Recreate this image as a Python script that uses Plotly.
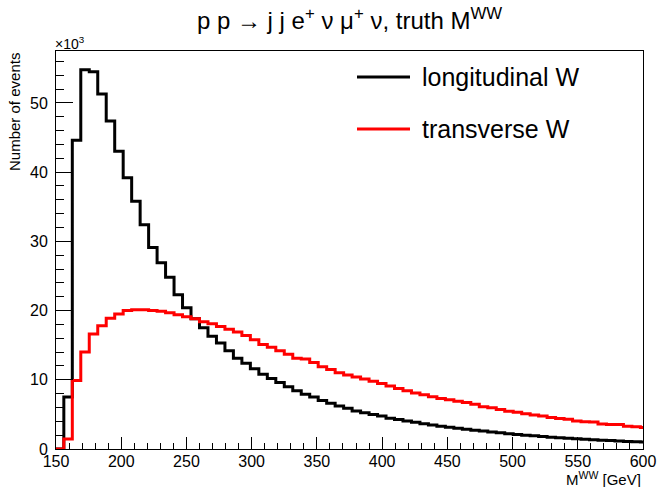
import plotly.graph_objects as go

# Histogram binning: 6.5 GeV bins, first visible bin starts at 149.5 GeV
bin_start = 149.5
bin_width = 6.5

# Events per bin, in units of 10^3
longitudinal_W = [
    0.0, 7.5, 44.6, 54.8, 54.5, 51.3, 47.4, 43.0, 39.2, 35.8,
    32.4, 29.1, 26.9, 24.8, 22.3, 20.4, 18.8, 17.5, 16.3, 15.3,
    14.2, 13.1, 12.4, 11.6, 10.8, 10.2, 9.6, 9.0, 8.4, 7.9,
    7.5, 7.0, 6.6, 6.2, 5.9, 5.5, 5.25, 5.0, 4.75, 4.45,
    4.25, 4.05, 3.85, 3.65, 3.45, 3.3, 3.15, 3.0, 2.85, 2.7,
    2.6, 2.45, 2.35, 2.2, 2.1, 2.0, 1.9, 1.8, 1.7, 1.62,
    1.55, 1.48, 1.42, 1.35, 1.28, 1.22, 1.15, 1.1, 1.05, 1.0,
]
transverse_W = [
    0.0, 1.45, 9.9, 14.0, 16.6, 17.8, 18.9, 19.5, 20.0, 20.1,
    20.1, 20.0, 19.9, 19.7, 19.4, 19.1, 18.8, 18.4, 18.1, 17.7,
    17.3, 16.9, 16.4, 15.8, 15.1, 14.7, 14.2, 13.7, 13.1, 13.0,
    12.5, 11.9, 11.5, 11.0, 10.7, 10.4, 10.1, 9.8, 9.45, 9.1,
    8.75, 8.4, 8.1, 7.85, 7.55, 7.3, 7.1, 6.9, 6.7, 6.45,
    6.1, 5.95, 5.7, 5.45, 5.3, 5.1, 4.9, 4.75, 4.55, 4.4,
    4.3, 4.05, 3.95, 3.9, 3.6, 3.55, 3.55, 3.3, 3.2, 3.1,
]

n_bins = len(longitudinal_W)
edges = [bin_start + i * bin_width for i in range(n_bins + 1)]

FONT = "Liberation Sans, Arial, Helvetica, sans-serif"

def step_xy(vals):
    xs = edges[:]
    ys = list(vals) + [vals[-1]]
    return xs, ys

fig = go.Figure()
xs, ys = step_xy(longitudinal_W)
fig.add_trace(go.Scatter(x=xs, y=ys, mode="lines", line_shape="hv",
                         line=dict(color="#000000", width=3),
                         name="longitudinal W", showlegend=False))
xs, ys = step_xy(transverse_W)
fig.add_trace(go.Scatter(x=xs, y=ys, mode="lines", line_shape="hv",
                         line=dict(color="#ff0000", width=3),
                         name="transverse W", showlegend=False))

L, R, T, B = 56, 14, 51, 38
W, H = 657, 487
pw, ph = W - L - R, H - T - B

def px(x):
    return (x - L) / pw

def py(y):
    return (H - B - y) / ph

fig.update_layout(
    width=W, height=H,
    margin=dict(l=L, r=R, t=T, b=B, autoexpand=False),
    paper_bgcolor="white", plot_bgcolor="white",
    font=dict(family=FONT, color="black"),
    title=dict(text="p p \u2192 j j e<sup>+</sup> \u03bd \u03bc<sup>+</sup> \u03bd, truth M<sup>WW</sup>",
               xref="paper", x=0.5, xanchor="center",
               yref="container", y=1 - 21 / H, yanchor="middle",
               font=dict(size=24, family=FONT)),
)

fig.update_xaxes(range=[150, 600], tick0=150, dtick=50, automargin=False,
                 ticks="inside", ticklen=12, tickwidth=1, tickcolor="black",
                 showline=True, linecolor="black", linewidth=1, mirror=True,
                 showgrid=False, zeroline=False, ticklabelstandoff=-2,
                 tickfont=dict(size=16, family=FONT),
                 minor=dict(ticks="inside", ticklen=6, dtick=10, tick0=150,
                            tickcolor="black", showgrid=False))
fig.update_yaxes(range=[0, 57.5], tick0=0, dtick=10, automargin=False,
                 ticks="inside", ticklen=17, tickwidth=1, tickcolor="black",
                 showline=True, linecolor="black", linewidth=1, mirror=True,
                 showgrid=False, zeroline=False,
                 ticklabelstandoff=4,
                 tickfont=dict(size=16, family=FONT),
                 minor=dict(ticks="inside", ticklen=8, dtick=2,
                            tickcolor="black", showgrid=False))

annotations = [
    dict(text="M<sup>WW</sup> [GeV]", xref="paper", yref="paper",
         x=1.0, y=py(478), xanchor="right", yanchor="middle",
         showarrow=False, font=dict(size=15, family=FONT)),
    dict(text="Number of events", xref="paper", yref="paper",
         x=px(14), y=1.0, xanchor="center", yanchor="top", textangle=-90,
         showarrow=False, font=dict(size=15, family=FONT)),
    dict(text="\u00d710<sup>3</sup>", xref="paper", yref="paper",
         x=px(53), y=py(43), xanchor="left", yanchor="middle",
         showarrow=False, font=dict(size=14, family=FONT)),
    dict(text="longitudinal W", xref="paper", yref="paper",
         x=px(420), y=py(77), xanchor="left", yanchor="middle",
         showarrow=False, font=dict(size=25, family=FONT)),
    dict(text="transverse W", xref="paper", yref="paper",
         x=px(420), y=py(129), xanchor="left", yanchor="middle",
         showarrow=False, font=dict(size=25, family=FONT)),
]
fig.update_layout(annotations=annotations)

shapes = [
    dict(type="line", xref="paper", yref="paper",
         x0=px(357), x1=px(410), y0=py(77), y1=py(77),
         line=dict(color="#000000", width=3)),
    dict(type="line", xref="paper", yref="paper",
         x0=px(357), x1=px(410), y0=py(129), y1=py(129),
         line=dict(color="#ff0000", width=3)),
]
fig.update_layout(shapes=shapes)

fig.write_html("out.html")
